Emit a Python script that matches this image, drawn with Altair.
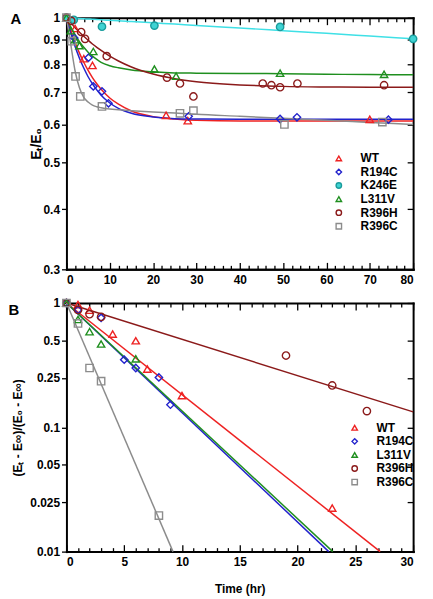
import altair as alt
import pandas as pd

FONT = "Liberation Sans"

# ---------------- categories ----------------
series_A = ["WT", "R194C", "K246E", "L311V", "R396H", "R396C"]
series_B = ["WT", "R194C", "L311V", "R396H", "R396C"]

# ---------------- Panel A : measured points (time hr, Et/E0) ----------------
a_wt_t = [0, 2, 4, 6, 23, 28, 70]
a_wt_v = [1.0, 0.95, 0.822, 0.796, 0.627, 0.611, 0.615]
a_r194c_t = [0, 1.8, 5.1, 6.2, 8.2, 9.7, 28.2, 49.3, 53.2, 74.3]
a_r194c_v = [1.0, 0.908, 0.826, 0.72, 0.703, 0.664, 0.624, 0.616, 0.621, 0.614]
a_k246e_t = [0, 1.7, 8.2, 20.3, 49.3, 80]
a_k246e_v = [1.0, 0.99, 0.958, 0.963, 0.957, 0.904]
a_l311v_t = [0, 1, 2, 3, 6.2, 20.3, 25.3, 49.3, 73.3]
a_l311v_v = [1.0, 0.94, 0.90, 0.875, 0.851, 0.782, 0.756, 0.767, 0.763]
a_r396h_t = [0, 1.1, 3.4, 4.3, 9.3, 23.2, 26.2, 29.3, 45.3, 47.3, 49.3, 53.3, 73.3]
a_r396h_v = [1.0, 0.985, 0.934, 0.904, 0.832, 0.751, 0.730, 0.686, 0.730, 0.724, 0.717, 0.730, 0.724]
a_r396c_t = [0, 1.2, 2.1, 3.2, 8.2, 26.2, 29.3, 50.3, 72.9]
a_r396c_v = [1.0, 0.894, 0.755, 0.686, 0.654, 0.633, 0.641, 0.600, 0.607]

# ---------------- Panel A : fitted curves ----------------
curve_t = [0, 1, 2, 3, 4, 5, 6, 7, 8, 10, 12, 15, 20, 25, 30, 40, 50, 60, 70, 80]
c_wt = [1, .939, .888, .844, .808, .777, .751, .729, .710, .681, .661, .640, .623, .616, .612, .610, .610, .610, .610, .610]
c_r194c = [1, .929, .871, .824, .786, .754, .729, .708, .690, .665, .648, .633, .622, .617, .616, .615, .615, .615, .615, .615]
c_k246e = [1, .999, .998, .996, .995, .994, .993, .992, .990, .988, .986, .982, .976, .970, .964, .952, .940, .928, .916, .904]
c_l311v = [1, .956, .921, .892, .868, .848, .832, .819, .808, .795, .787, .779, .772, .768, .767, .766, .765, .763, .762, .761]
c_r396h = [1, .976, .953, .933, .915, .898, .882, .868, .855, .832, .813, .790, .764, .747, .736, .725, .720, .718, .717, .717]
c_r396c = [1, .88, .775, .715, .683, .668, .658, .653, .650, .646, .644, .641, .637, .634, .630, .624, .618, .612, .606, .600]

# ---------------- Panel B : points ((Et-Einf)/(E0-Einf)) ----------------
b_wt_t = [0, 1, 2, 4, 6, 7, 10, 23]
b_wt_v = [1.0, 0.97, 0.875, 0.563, 0.497, 0.294, 0.18, 0.0224]
b_r194c_t = [0, 1, 3, 5, 6, 8, 9]
b_r194c_v = [1.0, 0.88, 0.76, 0.35, 0.30, 0.252, 0.152]
b_l311v_t = [0, 1, 2, 3, 6]
b_l311v_v = [1.0, 0.737, 0.588, 0.468, 0.356]
b_r396h_t = [0, 1, 2, 3, 19, 23, 26]
b_r396h_v = [1.0, 0.88, 0.813, 0.774, 0.378, 0.217, 0.135]
b_r396c_t = [0, 1, 2, 3, 8]
b_r396c_v = [1.0, 0.685, 0.30, 0.235, 0.0195]

# ---------------- Panel B : fitted lines (start, end) ----------------
l_wt_t, l_wt_v = [0, 27.15], [1.0, 0.01]
l_r194c_t, l_r194c_v = [0, 22.7], [1.0, 0.01]
l_l311v_t, l_l311v_v = [0, 23.05], [1.0, 0.01]
l_r396h_t, l_r396h_v = [0, 30], [1.0, 0.133]
l_r396c_t, l_r396c_v = [0, 9.22], [1.0, 0.01]

# ---------------- axis tick values ----------------
xA_major = [0, 10, 20, 30, 40, 50, 60, 70, 80]
xA_all = list(range(0, 81, 2))
yA_ticks = [0.3, 0.4, 0.5, 0.6, 0.7, 0.8, 0.9, 1.0]
xB_major = [0, 5, 10, 15, 20, 25, 30]
xB_all = list(range(0, 31, 1))
yB_ticks = [0.01, 0.025, 0.05, 0.1, 0.25, 0.5, 1.0]

# ---------------- styles ----------------
stroke_col = {"WT": "#ee2222", "R194C": "#2222cc", "K246E": "#1a9c9c",
              "L311V": "#1f8f1f", "R396H": "#8b1a1a", "R396C": "#8c8c8c"}
fill_col = {"WT": "transparent", "R194C": "transparent", "K246E": "#3fd3d3",
            "L311V": "transparent", "R396H": "transparent", "R396C": "transparent"}
line_col = {"WT": "#ee2222", "R194C": "#2222cc", "K246E": "#3fe0e6",
            "L311V": "#1f8f1f", "R396H": "#8b1a1a", "R396C": "#8c8c8c"}
shape_of = {"WT": "triangle-up", "R194C": "diamond", "K246E": "circle",
            "L311V": "triangle-up", "R396H": "circle", "R396C": "square"}

W, HA, HB = 350, 254, 251


def rows(name, ts, vs):
    return [{"series": name, "t": t, "v": v} for t, v in zip(ts, vs)]


ptsA = pd.DataFrame(
    rows("WT", a_wt_t, a_wt_v) + rows("R194C", a_r194c_t, a_r194c_v)
    + rows("K246E", a_k246e_t, a_k246e_v) + rows("L311V", a_l311v_t, a_l311v_v)
    + rows("R396H", a_r396h_t, a_r396h_v) + rows("R396C", a_r396c_t, a_r396c_v))
curA = pd.DataFrame(
    rows("WT", curve_t, c_wt) + rows("R194C", curve_t, c_r194c)
    + rows("K246E", curve_t, c_k246e) + rows("L311V", curve_t, c_l311v)
    + rows("R396H", curve_t, c_r396h) + rows("R396C", curve_t, c_r396c))
ptsB = pd.DataFrame(
    rows("WT", b_wt_t, b_wt_v) + rows("R194C", b_r194c_t, b_r194c_v)
    + rows("L311V", b_l311v_t, b_l311v_v) + rows("R396H", b_r396h_t, b_r396h_v)
    + rows("R396C", b_r396c_t, b_r396c_v))
linB = pd.DataFrame(
    rows("WT", l_wt_t, l_wt_v) + rows("R194C", l_r194c_t, l_r194c_v)
    + rows("L311V", l_l311v_t, l_l311v_v) + rows("R396H", l_r396h_t, l_r396h_v)
    + rows("R396C", l_r396c_t, l_r396c_v))


def label_axis_x(values, title, tpad=16):
    kw = dict(orient="bottom", values=values, ticks=False, labelPadding=5,
              domain=True, domainWidth=2, domainColor="black", domainCap="square",
              labelFont=FONT, labelFontSize=12, labelFontWeight="bold", labelColor="black",
              grid=False)
    if title:
        kw.update(title=title, titleFont=FONT, titleFontSize=12, titleFontWeight="bold",
                  titlePadding=tpad, titleColor="black")
    else:
        kw.update(title=None)
    return alt.Axis(**kw)


def tick_axis_x(values, orient, offset, mod):
    return alt.Axis(orient=orient, offset=offset, values=values, labels=False, title=None,
                    domain=True, domainWidth=2, domainColor="black", domainCap="square",
                    tickColor="black", tickWidth=1.3,
                    tickSize={"condition": {"test": f"datum.value % {mod} === 0", "value": 7},
                              "value": 4},
                    grid=False)


def label_axis_y(values, title, tpad, tsize):
    return alt.Axis(orient="left", values=values, tickSize=5, tickWidth=1.3, tickColor="black",
                    labelPadding=2, labelExpr="format(datum.value, '~g')",
                    domain=True, domainWidth=2, domainColor="black", domainCap="square",
                    labelFont=FONT, labelFontSize=12, labelFontWeight="bold", labelColor="black",
                    title=title, titleFont=FONT, titleFontSize=tsize, titleFontWeight="bold",
                    titleColor="black", titlePadding=tpad, grid=False)


def tick_axis_y_right(values, width):
    return alt.Axis(orient="left", offset=-width, values=values, labels=False, title=None,
                    tickSize=6, tickWidth=1.3, tickColor="black",
                    domain=True, domainWidth=2, domainColor="black", domainCap="square",
                    grid=False)


def legend(x, y):
    return alt.Legend(title=None, orient="none", legendX=x, legendY=y, padding=0,
                      symbolSize=30, symbolStrokeWidth=1.4, rowPadding=1.7, labelOffset=16,
                      labelFont=FONT, labelFontSize=12, labelFontWeight="bold",
                      labelColor="black")


def panel(pts, cur, series, xdom, ydom, x_major, x_all, y_ticks, mod, height,
          ytitle, ytpad, ytsize, xtitle, leg_xy, letter, letter_xy, interp):
    xs = alt.Scale(domain=xdom, nice=False, zero=False)
    ys = alt.Scale(type="log", domain=ydom, nice=False)
    leg = legend(*leg_xy)
    rev = series[::-1]
    curves = alt.Chart(cur).mark_line(strokeWidth=1.5, interpolate=interp).encode(
        x=alt.X("t:Q", scale=xs, axis=tick_axis_x(x_all, "top", -height, mod)),
        y=alt.Y("v:Q", scale=ys, axis=tick_axis_y_right(y_ticks, W)),
        color=alt.Color("series:N", scale=alt.Scale(domain=rev, range=[line_col[s] for s in rev]),
                        legend=None),
    )
    points = alt.Chart(pts).mark_point(opacity=1, strokeWidth=1.4, size=55).encode(
        x=alt.X("t:Q", scale=xs, axis=label_axis_x(x_major, xtitle)),
        y=alt.Y("v:Q", scale=ys, axis=label_axis_y(y_ticks, ytitle, ytpad, ytsize)),
        shape=alt.Shape("series:N", scale=alt.Scale(domain=series, range=[shape_of[s] for s in series]),
                        legend=leg),
        stroke=alt.Stroke("series:N", scale=alt.Scale(domain=series, range=[stroke_col[s] for s in series]),
                          legend=leg),
        fill=alt.Fill("series:N", scale=alt.Scale(domain=series, range=[fill_col[s] for s in series]),
                      legend=leg),
    )
    topticks = alt.Chart(pts).mark_point(opacity=0).encode(
        x=alt.X("t:Q", scale=xs, axis=tick_axis_x(x_all, "bottom", -height, mod)),
        y=alt.Y("v:Q", scale=ys, axis=None),
    )
    lett = alt.Chart(pd.DataFrame({"lab": [letter]})).mark_text(
        font=FONT, fontSize=15, fontWeight="bold", align="center", baseline="middle",
        color="black").encode(text="lab:N", x=alt.value(letter_xy[0]), y=alt.value(letter_xy[1]))
    return alt.layer(curves, points, topticks, lett).resolve_axis(
        x="independent", y="independent").properties(width=W, height=height)


chartA = panel(ptsA, curA, series_A, [0, 80], [0.3, 1.0], xA_major, xA_all, yA_ticks, 10, HA,
               "Eₜ/E₀", 0, 14, None, (269, 136), "A", (-51, 1), "monotone")
chartB = panel(ptsB, linB, series_B, [0, 30], [0.01, 1.0], xB_major, xB_all, yB_ticks, 5, HB,
               "(Eₜ - E∞)/(E₀ - E∞)", 5, 12, "Time (hr)", (285, 120), "B", (-53, 7), "linear")

chart = alt.vconcat(chartA, chartB, spacing=34, bounds="flush").resolve_scale(
    x="independent", y="independent", shape="independent", stroke="independent",
    fill="independent", color="independent"
).properties(
    padding={"left": 0, "top": 0, "right": 5, "bottom": 0}
).configure_view(stroke=None)

chart.save("out.html", embed_options={"renderer": "svg", "actions": False})
